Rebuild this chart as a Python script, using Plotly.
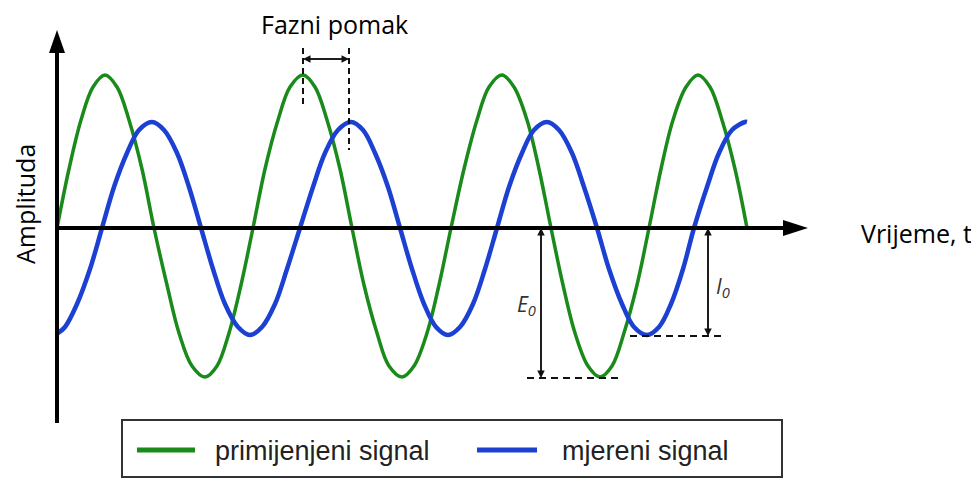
import plotly.graph_objects as go

# ---- data (time and amplitude in arbitrary units)
green_t = [0, 12, 24, 36, 48, 60, 72, 85, 97, 110, 122, 135, 148, 160, 172, 184,
           196, 208, 221, 233, 246, 258, 270, 283, 295, 307, 320, 332, 345, 357, 370, 382,
           394, 407, 420, 432, 445, 457, 470, 482, 494, 506, 518, 531, 543, 555, 567, 580,
           592, 604, 616, 629, 641, 653, 665, 678, 690]
green_y = [0, 59, 108, 141, 153, 141, 108, 59, 0, -57, -105, -138, -149, -138, -105, -57,
           0, 59, 108, 141, 153, 141, 108, 59, 0, -57, -105, -138, -149, -138, -105, -57,
           0, 59, 108, 141, 153, 141, 108, 59, 0, -57, -105, -138, -149, -138, -105, -57,
           0, 59, 108, 141, 153, 141, 108, 59, 0]

blue_t = [1, 8, 20, 33, 45, 57, 70, 82, 95, 107, 120, 132, 144, 156, 168, 181,
          193, 205, 218, 230, 243, 256, 268, 281, 294, 306, 318, 331, 343, 355, 367, 379,
          391, 403, 416, 428, 440, 452, 465, 477, 490, 502, 515, 527, 540, 552, 565, 577,
          590, 602, 614, 626, 637, 650, 662, 675, 688, 690]
blue_y = [-105, -99, -76, -41, 0, 41, 75, 98, 106, 98, 75, 41, 0, -41, -76, -99,
          -107, -99, -76, -41, 0, 41, 75, 98, 106, 98, 75, 41, 0, -41, -76, -99,
          -107, -99, -76, -41, 0, 41, 75, 98, 106, 98, 75, 41, 0, -41, -76, -99,
          -107, -99, -76, -41, 0, 41, 75, 98, 106, 106]

series_names = ["primijenjeni signal", "mjereni signal"]
x_label = "Vrijeme, t"
y_label = "Amplituda"
phase_label = "Fazni pomak"
e0_label = "<i>E<sub>0</sub></i>"
i0_label = "<i>I<sub>0</sub></i>"

GREEN = "#1a8a1a"
BLUE = "#1c40d2"
BLACK = "#000000"

fig = go.Figure()
fig.add_trace(go.Scatter(x=green_t, y=green_y, mode="lines", name=series_names[0],
                         line=dict(color=GREEN, width=3.5, shape="spline", smoothing=1.0),
                         showlegend=False, hoverinfo="skip"))
fig.add_trace(go.Scatter(x=blue_t, y=blue_y, mode="lines", name=series_names[1],
                         line=dict(color=BLUE, width=4.5, shape="spline", smoothing=1.0),
                         showlegend=False, hoverinfo="skip"))

shapes = []
# axes
shapes.append(dict(type="line", xref="x", yref="y", x0=0, x1=0, y0=-195, y1=180,
                   line=dict(color=BLACK, width=4)))
shapes.append(dict(type="path", xref="x", yref="y",
                   path="M -8 175 L 0 198 L 8 175 Z", fillcolor=BLACK, line=dict(width=0)))
shapes.append(dict(type="line", xref="x", yref="y", x0=-2, x1=730, y0=0, y1=0,
                   line=dict(color=BLACK, width=4)))
shapes.append(dict(type="path", xref="x", yref="y",
                   path="M 726 8 L 751 0 L 726 -8 Z", fillcolor=BLACK, line=dict(width=0)))

# phase shift dashed markers
dash_style = dict(color="#111111", width=2, dash="6px,4px")
shapes.append(dict(type="line", xref="x", yref="y", x0=246, x1=246, y0=180, y1=123, line=dash_style))
shapes.append(dict(type="line", xref="x", yref="y", x0=292, x1=292, y0=180, y1=78, line=dash_style))

# amplitude dashed level lines
shapes.append(dict(type="line", xref="x", yref="y", x0=470, x1=561, y0=-150, y1=-150,
                   line=dict(color="#111111", width=2, dash="7px,5px")))
shapes.append(dict(type="line", xref="x", yref="y", x0=573, x1=666, y0=-108, y1=-108,
                   line=dict(color="#111111", width=2, dash="7px,5px")))

# legend box
shapes.append(dict(type="rect", xref="x", yref="y", x0=65, x1=725, y0=-192, y1=-249,
                   line=dict(color="#333333", width=2), fillcolor="white"))
shapes.append(dict(type="line", xref="x", yref="y", x0=80, x1=138, y0=-222, y1=-222,
                   line=dict(color=GREEN, width=5)))
shapes.append(dict(type="line", xref="x", yref="y", x0=420, x1=480, y0=-222, y1=-222,
                   line=dict(color=BLUE, width=5)))

annotations = []
# double arrow for phase shift
for (xa, xb) in [(246, 292), (292, 246)]:
    annotations.append(dict(x=xb, y=169, ax=xa, ay=169, xref="x", yref="y", axref="x", ayref="y",
                            text="", showarrow=True, arrowhead=2, arrowsize=1, arrowwidth=1.5,
                            arrowcolor="#111111", standoff=0, startstandoff=0))
# E0 double arrow
for (ya, yb) in [(0, -150), (-150, 0)]:
    annotations.append(dict(x=484, y=yb, ax=484, ay=ya, xref="x", yref="y", axref="x", ayref="y",
                            text="", showarrow=True, arrowhead=2, arrowsize=1, arrowwidth=1.5,
                            arrowcolor="#111111"))
# I0 double arrow
for (ya, yb) in [(0, -108), (-108, 0)]:
    annotations.append(dict(x=651, y=yb, ax=651, ay=ya, xref="x", yref="y", axref="x", ayref="y",
                            text="", showarrow=True, arrowhead=2, arrowsize=1, arrowwidth=1.5,
                            arrowcolor="#111111"))

annotations.append(dict(x=277, y=204, xref="x", yref="y", text=phase_label, showarrow=False,
                        font=dict(family="Open Sans", size=25, color=BLACK), xanchor="center", yanchor="middle"))
annotations.append(dict(x=-32, y=24, xref="x", yref="y", text=y_label, showarrow=False, textangle=-90,
                        font=dict(family="Open Sans", size=25, color=BLACK), xanchor="center", yanchor="middle"))
annotations.append(dict(x=802, y=-5, xref="x", yref="y", text=x_label, showarrow=False,
                        font=dict(family="Open Sans", size=25, color=BLACK), xanchor="left", yanchor="middle"))
annotations.append(dict(x=469, y=-77, xref="x", yref="y", text=e0_label, showarrow=False,
                        font=dict(family="Open Sans", size=21, color="#333333"), xanchor="center", yanchor="middle"))
annotations.append(dict(x=666, y=-59, xref="x", yref="y", text=i0_label, showarrow=False,
                        font=dict(family="Open Sans", size=21, color="#333333"), xanchor="center", yanchor="middle"))
annotations.append(dict(x=156, y=-223, xref="x", yref="y", text=series_names[0], showarrow=False,
                        font=dict(family="Liberation Sans", size=27, color="#222222"), xanchor="left", yanchor="middle"))
annotations.append(dict(x=503, y=-223, xref="x", yref="y", text=series_names[1], showarrow=False,
                        font=dict(family="Liberation Sans", size=27, color="#222222"), xanchor="left", yanchor="middle"))

# the page body adds an 8px margin, so the figure is 8px smaller and ranges start 8px later
fig.update_layout(
    width=971, height=471,
    margin=dict(l=0, r=0, t=0, b=0),
    paper_bgcolor="white", plot_bgcolor="white",
    xaxis=dict(range=[-49, 922], visible=False, fixedrange=True),
    yaxis=dict(range=[-251, 220], visible=False, fixedrange=True),
    shapes=shapes, annotations=annotations,
    showlegend=False,
)
fig.write_html("out.html")
